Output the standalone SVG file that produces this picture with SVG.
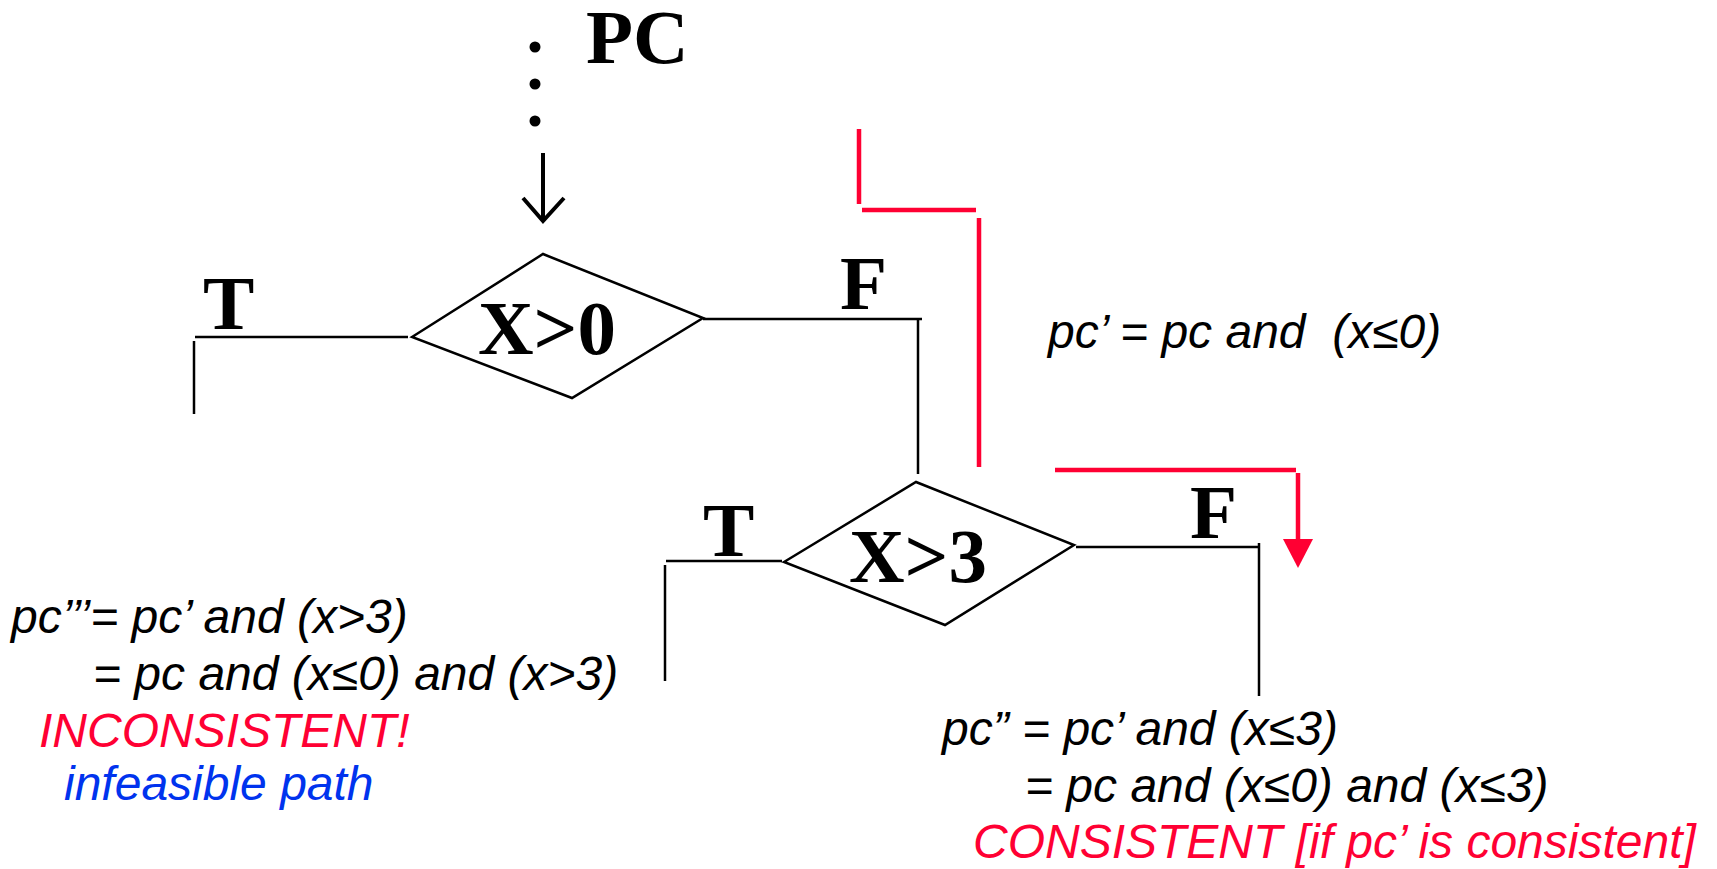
<svg xmlns="http://www.w3.org/2000/svg" width="1717" height="869" viewBox="0 0 1717 869">
<style>
.bl{stroke:#000;stroke-width:2.5;fill:none}
.ar{stroke:#000;stroke-width:4;fill:none}
.rd{stroke:#FF0033;stroke-width:4.5;fill:none}
.tb{font-family:"Liberation Serif","Times New Roman",serif;font-weight:bold;font-size:77px;fill:#000}
.it{font-family:"Liberation Sans",Arial,sans-serif;font-style:italic;font-size:48px;fill:#000;white-space:pre}
.red{fill:#FF0033}
.blue{fill:#0033EE}
</style>
<rect width="1717" height="869" fill="#fff"/>
<g id="start">
<circle cx="535" cy="47" r="5.5" fill="#000"/>
<circle cx="535" cy="84" r="5.5" fill="#000"/>
<circle cx="535" cy="121" r="5.5" fill="#000"/>
<text class="tb" x="586" y="63">PC</text>
</g>
<g id="decision1">
<polygon class="bl" points="412,337 543,254 703,318 572,398"/>
<text class="tb" x="478" y="354">X&gt;0</text>
</g>
<g id="decision2">
<polygon class="bl" points="784,562 916,482 1074,545 945,625"/>
<text class="tb" x="849" y="582">X&gt;3</text>
</g>
<g id="connectors">
<line class="ar" x1="543" y1="153" x2="543" y2="220"/>
<polyline class="ar" points="523,198 543,221 564,198"/>
<line class="bl" x1="408" y1="337" x2="195" y2="337"/>
<line class="bl" x1="194" y1="341" x2="194" y2="414"/>
<line class="bl" x1="703" y1="319" x2="922" y2="319"/>
<line class="bl" x1="918" y1="319" x2="918" y2="474"/>
<line class="bl" x1="782" y1="561" x2="666" y2="561"/>
<line class="bl" x1="665" y1="565" x2="665" y2="681"/>
<line class="bl" x1="1076" y1="547" x2="1259" y2="547"/>
<line class="bl" x1="1259" y1="543" x2="1259" y2="696"/>
</g>
<g id="labels">
<text class="tb" x="203" y="329">T</text>
<text class="tb" x="840" y="309">F</text>
<text class="tb" x="703" y="556">T</text>
<text class="tb" x="1190" y="538">F</text>
</g>
<g id="path">
<line class="rd" x1="859" y1="129" x2="859" y2="204"/>
<line class="rd" x1="862" y1="210" x2="976" y2="210"/>
<line class="rd" x1="979" y1="218" x2="979" y2="467"/>
<line class="rd" x1="1055" y1="470" x2="1296" y2="470"/>
<line class="rd" x1="1298" y1="473" x2="1298" y2="542"/>
<polygon points="1283,539 1313,539 1298,568" fill="#FF0033"/>
</g>
<g id="annotations">
<text class="it" x="1048" y="348">pc’ = pc and  (x≤0)</text>
<text class="it" x="11" y="633">pc’’’= pc’ and (x&gt;3)</text>
<text class="it" x="93" y="690">= pc and (x≤0) and (x&gt;3)</text>
<text class="it red" x="39" y="747">INCONSISTENT!</text>
<text class="it blue" x="64" y="800">infeasible path</text>
<text class="it" x="942" y="745">pc” = pc’ and (x≤3)</text>
<text class="it" x="1025" y="802">= pc and (x≤0) and (x≤3)</text>
<text class="it red" x="973" y="858">CONSISTENT [if pc’ is consistent]</text>
</g>
</svg>
